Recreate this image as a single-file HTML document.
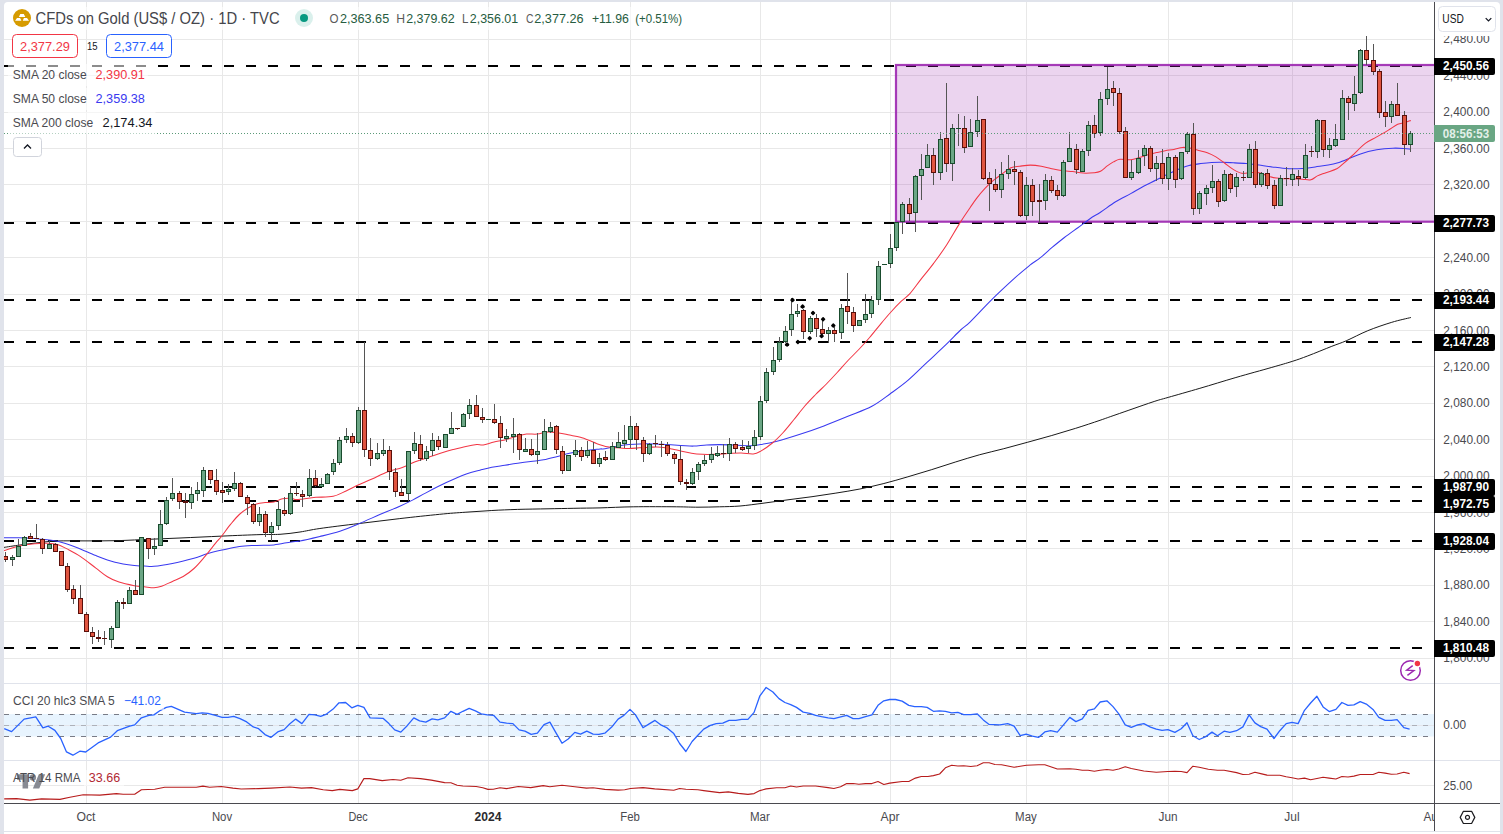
<!DOCTYPE html><html><head><meta charset="utf-8"><title>CFDs on Gold</title><style>html,body{margin:0;padding:0;background:#e0e3eb;width:1503px;height:834px;overflow:hidden;font-family:"Liberation Sans",sans-serif}</style></head><body><svg width="1503" height="834" viewBox="0 0 1503 834" style="display:block;position:absolute;left:0;top:0" font-family="Liberation Sans, sans-serif">
<defs><clipPath id="cm"><rect x="4" y="2" width="1430" height="681"/></clipPath><clipPath id="cc"><rect x="4" y="684" width="1430" height="76"/></clipPath><clipPath id="ca"><rect x="4" y="761" width="1430" height="42"/></clipPath></defs>
<rect width="1503" height="834" fill="#e0e3eb"/>
<path d="M4 834V6a4 4 0 0 1 4 -4H1496a4 4 0 0 1 4 4V834Z" fill="#fff"/>
<rect x="4" y="831" width="1496" height="1" fill="#e0e3eb"/>
<path d="M4 658.5H1434 M4 621.5H1434 M4 585.5H1434 M4 548.5H1434 M4 512.5H1434 M4 476.5H1434 M4 439.5H1434 M4 403.5H1434 M4 366.5H1434 M4 330.5H1434 M4 294.5H1434 M4 257.5H1434 M4 221.5H1434 M4 184.5H1434 M4 148.5H1434 M4 112.5H1434 M4 75.5H1434 M4 39.5H1434 M86.5 2V803 M222.5 2V803 M358.5 2V803 M488.5 2V803 M630.5 2V803 M760.5 2V803 M890.5 2V803 M1026.5 2V803 M1168.5 2V803 M1292.5 2V803 M1434.5 2V803 M4 785.5H1434" stroke="#e8e8e8" stroke-width="1" fill="none" shape-rendering="crispEdges"/>
<path d="M4 683.5H1500M4 760.5H1500" stroke="#e0e3eb" stroke-width="1" shape-rendering="crispEdges"/>
<g clip-path="url(#cm)">
<path d="M4 66H1434" stroke="#000" stroke-width="2" stroke-dasharray="10 12" stroke-dashoffset="0" shape-rendering="crispEdges"/>
<path d="M4 223H1434" stroke="#000" stroke-width="2" stroke-dasharray="10 12" stroke-dashoffset="0" shape-rendering="crispEdges"/>
<path d="M4 300H1434" stroke="#000" stroke-width="2" stroke-dasharray="10 12" stroke-dashoffset="0" shape-rendering="crispEdges"/>
<path d="M4 342H1434" stroke="#000" stroke-width="2" stroke-dasharray="10 12" stroke-dashoffset="0" shape-rendering="crispEdges"/>
<path d="M4 487H1434" stroke="#000" stroke-width="2" stroke-dasharray="10 12" stroke-dashoffset="0" shape-rendering="crispEdges"/>
<path d="M4 501H1434" stroke="#000" stroke-width="2" stroke-dasharray="10 12" stroke-dashoffset="0" shape-rendering="crispEdges"/>
<path d="M4 541H1434" stroke="#000" stroke-width="2" stroke-dasharray="10 12" stroke-dashoffset="0" shape-rendering="crispEdges"/>
<path d="M4 648H1434" stroke="#000" stroke-width="2" stroke-dasharray="10 12" stroke-dashoffset="0" shape-rendering="crispEdges"/>
<rect x="896" y="65" width="542" height="156.7" fill="#9c27b0" fill-opacity="0.2" stroke="#9c27b0" stroke-opacity="0.9" stroke-width="2.2"/>
<path d="M4.0 547.4C6.7 547.0 14.0 545.8 20.0 545.0C26.0 544.2 33.8 543.2 40.0 542.5C46.2 541.8 49.5 541.3 57.0 541.0C64.5 540.7 75.3 540.9 85.0 540.9C94.7 540.9 105.5 540.9 115.0 540.7C124.5 540.5 131.2 540.1 142.0 539.6C152.8 539.1 166.7 538.6 180.0 538.0C193.3 537.4 208.7 536.7 222.0 536.1C235.3 535.5 250.3 534.9 260.0 534.6C269.7 534.3 273.3 534.7 280.0 534.3C286.7 533.9 293.4 533.0 300.0 532.0C306.6 531.0 310.1 529.9 319.9 528.5C329.6 527.1 345.2 525.2 358.5 523.6C371.8 522.0 386.3 520.2 399.8 518.6C413.3 517.0 428.7 515.4 439.7 514.3C450.7 513.2 457.2 512.8 465.9 512.2C474.6 511.6 483.2 511.0 491.8 510.5C500.4 510.0 508.3 509.7 517.7 509.4C527.1 509.1 538.6 509.0 548.0 508.8C557.4 508.6 565.2 508.5 573.9 508.3C582.6 508.1 590.1 508.1 600.0 507.9C609.9 507.6 620.5 507.0 633.2 506.8C645.9 506.6 665.6 506.7 676.4 506.8C687.2 506.9 690.8 507.2 698.0 507.2C705.2 507.2 712.6 507.0 719.6 506.8C726.6 506.6 732.6 506.6 740.0 506.0C747.4 505.4 756.0 504.1 764.0 503.1C772.0 502.1 780.0 500.9 788.0 499.8C796.0 498.7 804.0 497.8 812.0 496.7C820.0 495.6 827.9 494.4 835.9 493.1C843.9 491.8 851.9 490.6 859.9 489.0C867.9 487.4 875.9 485.5 883.9 483.5C891.9 481.5 899.9 479.1 907.9 476.8C915.9 474.5 923.8 472.1 931.8 469.6C939.8 467.1 947.8 464.4 955.8 461.9C963.8 459.4 971.8 456.9 979.8 454.7C987.8 452.5 995.8 450.8 1003.8 448.7C1011.8 446.6 1019.8 444.4 1027.8 442.2C1035.8 440.0 1043.8 437.8 1051.8 435.5C1059.8 433.2 1067.7 430.8 1075.7 428.3C1083.7 425.8 1093.3 422.6 1100.0 420.3C1106.7 418.0 1107.3 417.7 1116.0 414.7C1124.7 411.7 1143.3 405.1 1152.0 402.2C1160.7 399.3 1160.2 399.7 1168.2 397.4C1176.2 395.1 1188.6 391.6 1199.9 388.3C1211.2 385.0 1223.9 381.0 1235.9 377.5C1247.9 374.0 1262.4 370.1 1271.8 367.4C1281.2 364.7 1286.2 363.3 1292.2 361.4C1298.2 359.5 1301.2 358.4 1307.8 355.9C1314.4 353.4 1325.4 348.8 1331.8 346.3C1338.2 343.8 1340.2 343.4 1346.2 340.8C1352.2 338.2 1360.2 333.8 1367.8 330.7C1375.4 327.6 1384.6 324.5 1391.8 322.3C1399.0 320.1 1407.7 318.3 1410.9 317.5" stroke="#1a1a1a" stroke-width="1.0" fill="none"/>
<path d="M4.0 537.8C6.5 537.8 13.5 537.6 19.2 537.8C24.9 538.0 32.0 538.3 38.4 538.9C44.8 539.5 51.1 539.8 57.5 541.2C63.9 542.6 70.3 545.0 76.7 547.4C83.1 549.8 89.5 553.1 95.9 555.6C102.3 558.1 108.6 560.6 115.0 562.3C121.4 564.0 129.4 565.0 134.3 565.6C139.2 566.2 141.0 565.8 144.3 565.9C147.6 566.0 149.3 566.7 154.0 566.3C158.7 565.9 165.7 564.8 172.4 563.5C179.1 562.2 188.2 559.9 194.0 558.3C199.8 556.7 202.3 555.2 207.0 553.8C211.7 552.4 216.6 551.3 222.0 550.1C227.4 548.9 233.5 547.3 239.3 546.5C245.1 545.7 250.8 545.7 256.6 545.4C262.4 545.1 268.1 545.5 273.9 544.9C279.7 544.3 286.8 542.5 291.2 541.9C295.6 541.2 295.2 541.9 300.0 541.0C304.8 540.1 313.2 538.1 319.9 536.5C326.5 534.9 333.5 533.3 339.9 531.2C346.3 529.1 351.9 526.7 358.5 523.9C365.1 521.1 372.9 517.6 379.8 514.6C386.7 511.7 394.3 508.6 399.8 506.2C405.3 503.8 408.6 502.2 413.0 499.9C417.4 497.6 420.8 495.5 426.4 492.6C431.9 489.7 439.6 485.7 446.3 482.6C453.0 479.5 460.7 476.1 466.3 474.0C471.9 471.9 475.8 471.3 480.0 470.2C484.2 469.1 487.7 468.1 491.8 467.3C495.9 466.5 500.5 465.9 504.8 465.2C509.1 464.5 513.4 463.8 517.7 463.2C522.0 462.6 526.4 462.1 530.7 461.5C535.0 460.9 539.3 460.6 543.6 459.8C547.9 459.0 552.3 457.8 556.6 456.7C560.9 455.6 565.3 454.2 569.6 453.3C573.9 452.4 577.4 451.8 582.5 451.1C587.6 450.4 596.6 449.4 600.0 449.0C603.4 448.6 600.4 449.3 603.0 448.9C605.6 448.5 611.6 447.2 615.9 446.5C620.2 445.8 624.9 445.0 628.9 444.6C632.9 444.2 635.4 444.0 639.7 443.9C644.0 443.8 650.1 443.8 654.8 443.9C659.5 444.0 663.4 444.4 667.7 444.6C672.0 444.9 676.4 445.1 680.7 445.4C685.0 445.6 689.3 446.2 693.6 446.1C697.9 446.0 702.3 445.2 706.6 445.0C710.9 444.8 715.3 444.6 719.6 444.6C723.9 444.6 727.4 444.8 732.5 445.0C737.6 445.2 745.4 445.8 750.0 445.7C754.6 445.6 756.1 445.3 760.4 444.6C764.7 443.9 769.4 443.2 776.0 441.5C782.6 439.8 792.0 436.9 800.0 434.3C808.0 431.7 815.9 428.9 823.9 425.9C831.9 422.9 839.9 419.6 847.9 416.3C855.9 413.0 864.8 410.1 871.9 406.3C879.0 402.5 884.6 397.8 890.6 393.5C896.6 389.2 901.8 385.6 907.9 380.4C914.0 375.2 920.6 368.4 927.0 362.4C933.4 356.4 940.6 349.8 946.2 344.4C951.8 339.0 956.6 333.7 960.6 330.0C964.6 326.3 964.7 327.3 970.0 322.1C975.3 316.9 985.0 306.3 992.5 298.9C1000.0 291.5 1008.7 283.5 1014.9 277.9C1021.1 272.3 1025.7 268.6 1029.9 265.2C1034.2 261.8 1036.7 260.7 1040.4 257.7C1044.2 254.7 1048.4 250.6 1052.4 247.2C1056.4 243.8 1060.2 240.8 1064.4 237.5C1068.7 234.2 1073.6 230.8 1077.9 227.7C1082.2 224.6 1086.2 221.3 1090.0 218.7C1093.8 216.1 1096.2 215.0 1100.5 212.2C1104.8 209.4 1110.6 204.9 1115.6 201.8C1120.6 198.7 1126.0 196.2 1130.7 193.6C1135.4 191.0 1139.3 188.6 1143.6 186.3C1147.9 184.0 1152.3 182.0 1156.6 179.8C1160.9 177.6 1165.6 175.2 1169.6 173.3C1173.6 171.4 1177.2 169.7 1180.4 168.4C1183.6 167.1 1185.6 166.2 1189.0 165.4C1192.4 164.6 1197.0 164.1 1200.8 163.6C1204.6 163.1 1208.0 162.7 1211.6 162.5C1215.2 162.3 1218.8 162.2 1222.4 162.3C1226.0 162.4 1229.2 162.6 1233.2 162.8C1237.2 163.0 1241.8 163.2 1246.1 163.6C1250.4 164.0 1254.8 164.5 1259.1 165.1C1263.4 165.7 1268.0 166.4 1272.0 166.9C1276.0 167.4 1279.2 167.9 1282.8 168.2C1286.4 168.5 1290.3 168.8 1293.6 168.8C1296.8 168.8 1298.7 168.7 1302.3 168.4C1305.9 168.1 1310.9 167.5 1315.2 166.9C1319.5 166.3 1324.2 165.8 1328.2 165.1C1332.2 164.4 1336.3 163.3 1339.0 162.5C1341.7 161.7 1340.7 161.8 1344.3 160.4C1347.9 159.0 1355.1 155.7 1360.5 153.9C1365.9 152.1 1371.3 150.8 1376.7 149.8C1382.1 148.9 1388.3 148.4 1392.9 148.2C1397.5 148.0 1401.2 148.3 1404.2 148.5C1407.2 148.7 1409.8 149.2 1410.9 149.3" stroke="#3a3af0" stroke-width="1.05" fill="none"/>
<path d="M4.0 550.5C6.5 549.8 14.1 547.1 19.2 546.0C24.3 544.9 29.7 544.2 34.5 543.7C39.3 543.2 44.2 543.1 48.0 543.2C51.8 543.3 54.3 543.5 57.5 544.5C60.7 545.5 63.1 546.9 67.0 548.9C70.8 550.9 75.8 553.4 80.6 556.6C85.4 559.8 91.4 564.8 95.9 568.1C100.4 571.5 103.6 574.4 107.4 576.7C111.2 579.0 114.5 580.6 119.0 582.1C123.5 583.6 130.1 584.9 134.3 585.7C138.5 586.5 141.0 586.5 144.3 586.8C147.6 587.1 151.1 587.8 154.0 587.7C156.9 587.6 158.5 587.2 161.6 586.2C164.7 585.2 168.8 583.0 172.4 581.4C176.0 579.8 179.6 578.6 183.2 576.5C186.8 574.4 190.4 571.8 194.0 568.5C197.6 565.2 201.2 560.8 204.8 556.6C208.4 552.4 212.7 546.7 215.6 543.2C218.5 539.7 219.5 538.9 222.0 535.7C224.5 532.5 227.8 527.7 230.7 524.2C233.6 520.7 236.4 517.2 239.3 514.5C242.2 511.8 245.1 509.8 248.0 508.0C250.9 506.2 253.7 504.8 256.6 503.9C259.5 503.0 262.3 502.9 265.2 502.6C268.1 502.3 271.0 502.6 273.9 502.0C276.8 501.4 279.6 499.3 282.5 498.7C285.4 498.1 288.9 498.1 291.2 498.3C293.4 498.5 294.0 499.5 296.0 499.6C298.0 499.7 299.7 499.3 303.0 498.9C306.3 498.5 310.9 497.7 315.9 497.3C320.9 496.9 328.2 497.4 333.2 496.3C338.2 495.2 342.2 492.7 346.1 490.9C350.1 489.1 352.6 487.5 356.9 485.5C361.2 483.5 366.9 481.3 372.0 479.0C377.1 476.7 382.1 473.8 387.2 471.9C392.2 470.0 397.6 469.2 402.3 467.5C407.0 465.8 410.9 463.4 415.2 461.7C419.5 460.0 423.9 458.8 428.2 457.4C432.5 456.0 437.1 454.4 441.2 453.1C445.3 451.8 448.9 450.7 453.0 449.6C457.1 448.5 461.9 447.2 465.9 446.4C469.8 445.6 473.8 444.9 476.7 444.6C479.6 444.4 480.3 445.3 483.2 444.9C486.1 444.5 490.4 442.8 494.0 442.0C497.6 441.2 501.2 440.8 504.8 439.9C508.4 439.0 512.0 437.7 515.6 436.7C519.2 435.7 522.8 434.5 526.4 434.1C530.0 433.7 533.6 434.5 537.2 434.1C540.8 433.7 544.4 432.1 548.0 431.9C551.6 431.7 555.2 432.5 558.8 433.0C562.4 433.5 566.0 434.4 569.6 435.1C573.2 435.8 576.8 436.3 580.4 437.3C584.0 438.3 588.5 440.2 591.2 441.2C593.9 442.2 593.8 442.6 596.5 443.5C599.2 444.4 603.7 446.0 607.3 446.7C610.9 447.4 614.4 447.5 618.0 447.8C621.6 448.1 625.3 448.5 628.9 448.5C632.5 448.5 636.1 448.0 639.7 447.8C643.3 447.6 646.9 447.3 650.5 447.2C654.1 447.1 657.7 446.9 661.3 447.2C664.9 447.5 668.8 448.3 672.0 448.9C675.2 449.5 677.5 450.3 680.7 451.0C684.0 451.7 687.9 452.6 691.5 453.2C695.1 453.8 698.3 454.1 702.3 454.3C706.2 454.5 710.9 454.4 715.2 454.3C719.5 454.2 723.9 453.8 728.2 453.6C732.5 453.4 737.0 452.9 741.2 453.0C745.4 453.1 750.0 454.3 753.2 454.0C756.4 453.7 757.2 453.2 760.4 451.4C763.6 449.6 768.6 446.1 772.4 443.0C776.2 439.9 779.6 436.4 783.2 432.5C786.8 428.6 790.4 423.9 794.0 419.5C797.6 415.1 801.2 410.2 804.8 406.0C808.4 401.8 812.0 398.2 815.6 394.5C819.2 390.8 822.8 387.7 826.4 384.0C830.0 380.3 833.6 376.4 837.2 372.5C840.8 368.6 844.4 364.3 848.0 360.5C851.6 356.7 855.2 353.3 858.8 349.5C862.4 345.7 866.0 341.7 869.6 337.5C873.2 333.3 876.9 328.5 880.4 324.3C883.9 320.1 887.0 316.4 890.5 312.5C894.0 308.6 898.1 304.3 901.3 301.2C904.5 298.1 906.7 297.2 909.9 293.6C913.1 290.0 916.8 284.6 920.7 279.6C924.7 274.6 929.3 269.2 933.6 263.4C937.9 257.6 942.3 251.7 946.6 245.0C950.9 238.3 955.7 229.6 959.6 223.4C963.5 217.2 967.1 212.1 969.9 208.0C972.7 203.9 973.9 201.9 976.4 198.6C978.9 195.3 982.1 191.5 985.0 188.4C987.9 185.3 990.8 182.6 993.7 180.2C996.6 177.8 999.4 175.9 1002.3 173.8C1005.2 171.7 1008.0 169.0 1010.9 167.7C1013.8 166.4 1016.4 166.6 1019.6 166.2C1022.9 165.8 1026.8 165.1 1030.4 165.1C1034.0 165.1 1037.8 165.6 1041.2 166.2C1044.6 166.8 1047.4 167.7 1050.8 168.4C1054.2 169.1 1058.0 170.0 1061.6 170.5C1065.2 171.0 1068.8 171.2 1072.4 171.6C1076.0 172.0 1079.6 172.9 1083.2 173.1C1086.8 173.3 1091.1 173.0 1094.0 172.7C1096.9 172.4 1098.3 172.3 1100.5 171.2C1102.7 170.1 1104.8 167.8 1106.9 166.2C1109.1 164.6 1111.2 163.1 1113.4 161.9C1115.6 160.8 1117.0 159.7 1119.9 159.3C1122.8 158.9 1127.5 160.0 1130.7 159.7C1133.9 159.4 1136.4 158.4 1139.3 157.6C1142.2 156.8 1145.1 155.6 1148.0 154.8C1150.9 154.0 1153.7 153.3 1156.6 152.6C1159.5 151.9 1162.3 151.2 1165.2 150.7C1168.1 150.2 1171.0 149.9 1173.9 149.4C1176.8 148.9 1179.6 147.6 1182.5 147.4C1185.4 147.2 1188.5 147.8 1191.2 148.3C1193.9 148.8 1195.9 149.7 1198.6 150.4C1201.3 151.2 1204.4 151.7 1207.3 152.8C1210.2 153.9 1213.0 155.2 1215.9 156.9C1218.8 158.6 1221.6 160.9 1224.5 163.0C1227.4 165.1 1230.3 167.7 1233.2 169.4C1236.1 171.1 1238.9 172.8 1241.8 173.3C1244.7 173.9 1247.6 172.8 1250.5 172.7C1253.4 172.6 1256.2 172.2 1259.1 172.7C1262.0 173.2 1264.8 175.0 1267.7 175.9C1270.6 176.8 1273.5 177.6 1276.4 178.1C1279.3 178.6 1282.1 178.6 1285.0 178.7C1287.9 178.8 1290.7 178.6 1293.6 178.7C1296.5 178.8 1299.4 179.0 1302.3 179.2C1305.2 179.4 1308.4 180.4 1310.9 179.8C1313.4 179.2 1314.9 177.1 1317.4 175.9C1319.9 174.7 1322.8 173.9 1326.0 172.7C1329.2 171.5 1333.9 170.3 1336.8 168.8C1339.7 167.3 1340.7 165.8 1343.3 163.6C1345.9 161.4 1348.7 158.9 1352.4 155.5C1356.1 152.1 1361.2 146.5 1365.3 143.4C1369.3 140.3 1372.9 139.1 1376.7 136.9C1380.5 134.7 1384.5 132.5 1388.0 130.4C1391.5 128.3 1395.0 125.6 1397.7 124.3C1400.4 123.0 1402.0 123.4 1404.2 122.8C1406.4 122.2 1409.8 120.8 1410.9 120.4" stroke="#f23645" stroke-width="1.05" fill="none"/>
<path d="M12.5 555V566 M18.5 539V557 M24.5 536V546 M49.5 541V549 M111.5 626V648 M117.5 600V628 M129.5 587V604 M141.5 537V595 M154.5 538V555 M160.5 510V546 M166.5 497V525 M172.5 478V501 M191.5 487V509 M197.5 482V501 M203.5 467V497 M228.5 484V495 M234.5 472V491 M259.5 507V526 M271.5 522V541 M278.5 501V530 M290.5 487V515 M309.5 469V497 M321.5 478V487 M327.5 473V484 M333.5 459V475 M339.5 437V465 M346.5 428V443 M358.5 407V444 M377.5 443V460 M383.5 439V456 M408.5 451V501 M414.5 432V454 M426.5 446V461 M432.5 433V456 M445.5 434V448 M451.5 412V434 M463.5 413V427 M469.5 399V419 M488.5 419V420 M506.5 429V442 M513.5 418V453 M525.5 438V452 M537.5 433V464 M544.5 419V450 M550.5 422V433 M568.5 455V471 M575.5 440V457 M587.5 441V458 M599.5 453V467 M612.5 442V460 M618.5 432V448 M624.5 425V448 M630.5 416V448 M649.5 443V455 M692.5 468V485 M698.5 462V480 M704.5 455V466 M711.5 447V463 M717.5 446V457 M729.5 438V461 M748.5 441V453 M754.5 430V450 M760.5 396V440 M766.5 368V403 M773.5 347V375 M779.5 337V362 M785.5 326V343 M791.5 298V336 M797.5 304V317 M810.5 316V334 M828.5 327V343 M841.5 304V339 M859.5 320V326 M865.5 294V323 M871.5 296V318 M878.5 261V305 M884.5 264V265 M890.5 234V268 M896.5 222V251 M902.5 202V234 M915.5 175V232 M921.5 154V200 M927.5 144V168 M940.5 132V180 M952.5 124V181 M958.5 114V146 M970.5 119V147 M977.5 96V137 M1001.5 162V198 M1008.5 155V179 M1026.5 177V220 M1045.5 174V210 M1063.5 160V197 M1069.5 132V162 M1082.5 149V172 M1088.5 121V156 M1100.5 92V136 M1107.5 67V105 M1131.5 160V180 M1138.5 150V174 M1144.5 145V166 M1156.5 156V181 M1168.5 153V190 M1181.5 152V180 M1187.5 132V154 M1199.5 191V214 M1206.5 185V205 M1212.5 165V193 M1224.5 170V202 M1236.5 173V197 M1249.5 144V178 M1261.5 172V187 M1280.5 175V206 M1292.5 168V186 M1305.5 144V179 M1317.5 119V158 M1329.5 138V158 M1335.5 124V147 M1342.5 90V140 M1354.5 76V111 M1360.5 49V94 M1391.5 101V123 M1410.5 131V152 M5.5 552V562 M30.5 533V539 M36.5 524V539 M42.5 538V554 M55.5 543V552 M61.5 551V566 M67.5 563V592 M73.5 585V604 M80.5 585V614 M86.5 612V632 M92.5 627V644 M98.5 630V642 M104.5 631V645 M123.5 598V609 M135.5 580V595 M148.5 538V559 M179.5 491V509 M185.5 493V518 M210.5 470V484 M216.5 469V495 M222.5 482V503 M240.5 482V497 M247.5 495V515 M253.5 503V524 M265.5 511V537 M284.5 497V516 M296.5 482V496 M302.5 490V507 M315.5 470V487 M352.5 433V447 M364.5 342V457 M370.5 438V466 M389.5 446V480 M395.5 468V497 M401.5 479V496 M420.5 435V461 M438.5 436V450 M457.5 428V430 M476.5 395V417 M482.5 408V423 M494.5 404V424 M500.5 416V448 M519.5 433V460 M531.5 439V456 M556.5 425V454 M562.5 446V474 M581.5 447V461 M593.5 442V464 M605.5 451V461 M636.5 423V450 M643.5 437V462 M655.5 435V447 M661.5 441V457 M667.5 442V456 M674.5 452V464 M680.5 446V485 M686.5 479V490 M723.5 444V458 M735.5 442V453 M742.5 440V451 M803.5 309V339 M816.5 314V337 M822.5 320V336 M834.5 327V342 M847.5 273V324 M853.5 307V332 M909.5 198V221 M933.5 148V185 M946.5 83V172 M964.5 116V153 M983.5 119V180 M989.5 172V211 M995.5 169V192 M1014.5 161V185 M1020.5 170V217 M1032.5 179V216 M1039.5 184V223 M1051.5 176V193 M1057.5 185V200 M1076.5 144V174 M1094.5 115V138 M1113.5 81V106 M1119.5 88V134 M1125.5 127V178 M1150.5 146V172 M1162.5 149V184 M1175.5 155V188 M1193.5 123V215 M1218.5 179V207 M1230.5 173V193 M1243.5 171V181 M1255.5 141V188 M1267.5 169V189 M1274.5 180V209 M1286.5 167V186 M1298.5 170V186 M1311.5 146V157 M1323.5 120V157 M1348.5 96V120 M1366.5 36V65 M1373.5 44V75 M1379.5 69V118 M1385.5 101V127 M1397.5 83V116 M1404.5 111V155" stroke="#555" stroke-width="1" shape-rendering="crispEdges"/>
<g fill="#6ba685" stroke="#194b2d" stroke-width="1" shape-rendering="crispEdges">
<rect x="10.5" y="557.5" width="4" height="2"/>
<rect x="16.5" y="546.5" width="4" height="10"/>
<rect x="22.5" y="537.5" width="4" height="8"/>
<rect x="47.5" y="544.5" width="4" height="4"/>
<rect x="109.5" y="628.5" width="4" height="11"/>
<rect x="115.5" y="602.5" width="4" height="25"/>
<rect x="127.5" y="590.5" width="4" height="13"/>
<rect x="139.5" y="537.5" width="4" height="57"/>
<rect x="152.5" y="546.5" width="4" height="2"/>
<rect x="158.5" y="524.5" width="4" height="21"/>
<rect x="164.5" y="500.5" width="4" height="23"/>
<rect x="170.5" y="493.5" width="4" height="5"/>
<rect x="189.5" y="494.5" width="4" height="8"/>
<rect x="195.5" y="490.5" width="4" height="3"/>
<rect x="201.5" y="470.5" width="4" height="20"/>
<rect x="226.5" y="489.5" width="4" height="2"/>
<rect x="232.5" y="483.5" width="4" height="5"/>
<rect x="257.5" y="514.5" width="4" height="7"/>
<rect x="269.5" y="526.5" width="4" height="6"/>
<rect x="276.5" y="509.5" width="4" height="16"/>
<rect x="288.5" y="493.5" width="4" height="20"/>
<rect x="307.5" y="478.5" width="4" height="17"/>
<rect x="319.5" y="484.5" width="4" height="2"/>
<rect x="325.5" y="474.5" width="4" height="9"/>
<rect x="331.5" y="463.5" width="4" height="8"/>
<rect x="337.5" y="440.5" width="4" height="22"/>
<rect x="344.5" y="436.5" width="4" height="3"/>
<rect x="356.5" y="410.5" width="4" height="32"/>
<rect x="375.5" y="453.5" width="4" height="5"/>
<rect x="381.5" y="450.5" width="4" height="3"/>
<rect x="406.5" y="451.5" width="4" height="42"/>
<rect x="412.5" y="443.5" width="4" height="7"/>
<rect x="424.5" y="451.5" width="4" height="7"/>
<rect x="430.5" y="440.5" width="4" height="10"/>
<rect x="443.5" y="434.5" width="4" height="13"/>
<rect x="449.5" y="428.5" width="4" height="5"/>
<rect x="461.5" y="414.5" width="4" height="12"/>
<rect x="467.5" y="405.5" width="4" height="8"/>
<rect x="486" y="419" width="5" height="1" fill="#194b2d" stroke="none"/>
<rect x="504.5" y="436.5" width="4" height="2"/>
<rect x="511.5" y="434.5" width="4" height="2"/>
<rect x="523.5" y="449.5" width="4" height="2"/>
<rect x="535.5" y="451.5" width="4" height="3"/>
<rect x="542.5" y="431.5" width="4" height="18"/>
<rect x="548.5" y="427.5" width="4" height="4"/>
<rect x="566.5" y="455.5" width="4" height="15"/>
<rect x="573.5" y="450.5" width="4" height="4"/>
<rect x="585.5" y="450.5" width="4" height="5"/>
<rect x="597.5" y="458.5" width="4" height="5"/>
<rect x="610.5" y="446.5" width="4" height="13"/>
<rect x="616.5" y="442.5" width="4" height="5"/>
<rect x="622.5" y="440.5" width="4" height="3"/>
<rect x="628.5" y="426.5" width="4" height="13"/>
<rect x="647.5" y="444.5" width="4" height="9"/>
<rect x="690.5" y="472.5" width="4" height="11"/>
<rect x="696.5" y="464.5" width="4" height="7"/>
<rect x="702.5" y="460.5" width="4" height="3"/>
<rect x="709.5" y="454.5" width="4" height="5"/>
<rect x="715.5" y="453.5" width="4" height="2"/>
<rect x="727.5" y="444.5" width="4" height="9"/>
<rect x="746.5" y="446.5" width="4" height="2"/>
<rect x="752.5" y="437.5" width="4" height="8"/>
<rect x="758.5" y="401.5" width="4" height="35"/>
<rect x="764.5" y="372.5" width="4" height="28"/>
<rect x="771.5" y="360.5" width="4" height="11"/>
<rect x="777.5" y="342.5" width="4" height="17"/>
<rect x="783.5" y="331.5" width="4" height="10"/>
<rect x="789.5" y="314.5" width="4" height="15"/>
<rect x="795.5" y="311.5" width="4" height="2"/>
<rect x="808.5" y="318.5" width="4" height="13"/>
<rect x="826.5" y="330.5" width="4" height="3"/>
<rect x="839.5" y="308.5" width="4" height="24"/>
<rect x="857.5" y="320.5" width="4" height="5"/>
<rect x="863.5" y="314.5" width="4" height="5"/>
<rect x="869.5" y="300.5" width="4" height="13"/>
<rect x="876.5" y="266.5" width="4" height="33"/>
<rect x="882" y="264" width="5" height="1" fill="#194b2d" stroke="none"/>
<rect x="888.5" y="248.5" width="4" height="15"/>
<rect x="894.5" y="222.5" width="4" height="25"/>
<rect x="900.5" y="204.5" width="4" height="17"/>
<rect x="913.5" y="176.5" width="4" height="36"/>
<rect x="919.5" y="169.5" width="4" height="6"/>
<rect x="925.5" y="155.5" width="4" height="12"/>
<rect x="938.5" y="139.5" width="4" height="33"/>
<rect x="950.5" y="128.5" width="4" height="35"/>
<rect x="956" y="128" width="5" height="1" fill="#194b2d" stroke="none"/>
<rect x="968.5" y="132.5" width="4" height="14"/>
<rect x="975.5" y="120.5" width="4" height="11"/>
<rect x="999.5" y="174.5" width="4" height="15"/>
<rect x="1006.5" y="169.5" width="4" height="4"/>
<rect x="1024.5" y="185.5" width="4" height="30"/>
<rect x="1043.5" y="180.5" width="4" height="20"/>
<rect x="1061.5" y="162.5" width="4" height="33"/>
<rect x="1067.5" y="148.5" width="4" height="13"/>
<rect x="1080.5" y="151.5" width="4" height="20"/>
<rect x="1086.5" y="125.5" width="4" height="25"/>
<rect x="1098.5" y="99.5" width="4" height="33"/>
<rect x="1105.5" y="89.5" width="4" height="9"/>
<rect x="1129.5" y="172.5" width="4" height="5"/>
<rect x="1136.5" y="158.5" width="4" height="14"/>
<rect x="1142.5" y="148.5" width="4" height="7"/>
<rect x="1154.5" y="163.5" width="4" height="5"/>
<rect x="1166.5" y="157.5" width="4" height="21"/>
<rect x="1179.5" y="152.5" width="4" height="26"/>
<rect x="1185.5" y="134.5" width="4" height="17"/>
<rect x="1197.5" y="193.5" width="4" height="15"/>
<rect x="1204.5" y="188.5" width="4" height="5"/>
<rect x="1210.5" y="181.5" width="4" height="6"/>
<rect x="1222.5" y="174.5" width="4" height="26"/>
<rect x="1234.5" y="177.5" width="4" height="9"/>
<rect x="1247.5" y="149.5" width="4" height="28"/>
<rect x="1259.5" y="173.5" width="4" height="11"/>
<rect x="1278.5" y="178.5" width="4" height="27"/>
<rect x="1290.5" y="174.5" width="4" height="5"/>
<rect x="1303.5" y="155.5" width="4" height="22"/>
<rect x="1315.5" y="120.5" width="4" height="31"/>
<rect x="1327.5" y="145.5" width="4" height="4"/>
<rect x="1333.5" y="139.5" width="4" height="6"/>
<rect x="1340.5" y="98.5" width="4" height="41"/>
<rect x="1352.5" y="94.5" width="4" height="9"/>
<rect x="1358.5" y="50.5" width="4" height="42"/>
<rect x="1389.5" y="104.5" width="4" height="12"/>
<rect x="1408.5" y="133.5" width="4" height="11"/>
</g>
<g fill="#e05540" stroke="#5a0f0a" stroke-width="1" shape-rendering="crispEdges">
<rect x="3.5" y="556.5" width="4" height="3"/>
<rect x="28.5" y="536.5" width="4" height="2"/>
<rect x="34" y="538" width="5" height="1" fill="#5a0f0a" stroke="none"/>
<rect x="40.5" y="539.5" width="4" height="9"/>
<rect x="53.5" y="544.5" width="4" height="7"/>
<rect x="59.5" y="551.5" width="4" height="14"/>
<rect x="65.5" y="566.5" width="4" height="23"/>
<rect x="71.5" y="589.5" width="4" height="9"/>
<rect x="78.5" y="598.5" width="4" height="15"/>
<rect x="84.5" y="614.5" width="4" height="17"/>
<rect x="90.5" y="632.5" width="4" height="4"/>
<rect x="96" y="637" width="5" height="2" fill="#5a0f0a" stroke="none"/>
<rect x="102" y="638" width="5" height="1" fill="#5a0f0a" stroke="none"/>
<rect x="121" y="602" width="5" height="2" fill="#5a0f0a" stroke="none"/>
<rect x="133.5" y="590.5" width="4" height="4"/>
<rect x="146.5" y="538.5" width="4" height="10"/>
<rect x="177.5" y="493.5" width="4" height="8"/>
<rect x="183" y="501" width="5" height="2" fill="#5a0f0a" stroke="none"/>
<rect x="208.5" y="470.5" width="4" height="9"/>
<rect x="214.5" y="480.5" width="4" height="11"/>
<rect x="220.5" y="490.5" width="4" height="2"/>
<rect x="238.5" y="483.5" width="4" height="13"/>
<rect x="245.5" y="497.5" width="4" height="6"/>
<rect x="251.5" y="504.5" width="4" height="17"/>
<rect x="263.5" y="514.5" width="4" height="18"/>
<rect x="282.5" y="510.5" width="4" height="3"/>
<rect x="294" y="493" width="5" height="1" fill="#5a0f0a" stroke="none"/>
<rect x="300.5" y="494.5" width="4" height="2"/>
<rect x="313.5" y="478.5" width="4" height="7"/>
<rect x="350.5" y="436.5" width="4" height="6"/>
<rect x="362.5" y="410.5" width="4" height="39"/>
<rect x="368.5" y="450.5" width="4" height="8"/>
<rect x="387.5" y="450.5" width="4" height="21"/>
<rect x="393.5" y="472.5" width="4" height="19"/>
<rect x="399.5" y="492.5" width="4" height="3"/>
<rect x="418.5" y="444.5" width="4" height="14"/>
<rect x="436.5" y="440.5" width="4" height="6"/>
<rect x="455" y="428" width="5" height="1" fill="#5a0f0a" stroke="none"/>
<rect x="474.5" y="405.5" width="4" height="11"/>
<rect x="480.5" y="417.5" width="4" height="2"/>
<rect x="492.5" y="419.5" width="4" height="3"/>
<rect x="498.5" y="423.5" width="4" height="14"/>
<rect x="517.5" y="434.5" width="4" height="15"/>
<rect x="529.5" y="449.5" width="4" height="5"/>
<rect x="554.5" y="426.5" width="4" height="23"/>
<rect x="560.5" y="451.5" width="4" height="19"/>
<rect x="579.5" y="450.5" width="4" height="6"/>
<rect x="591.5" y="450.5" width="4" height="13"/>
<rect x="603.5" y="457.5" width="4" height="2"/>
<rect x="634.5" y="426.5" width="4" height="13"/>
<rect x="641.5" y="440.5" width="4" height="13"/>
<rect x="653" y="443" width="5" height="1" fill="#5a0f0a" stroke="none"/>
<rect x="659" y="444" width="5" height="1" fill="#5a0f0a" stroke="none"/>
<rect x="665.5" y="445.5" width="4" height="8"/>
<rect x="672.5" y="454.5" width="4" height="4"/>
<rect x="678.5" y="459.5" width="4" height="22"/>
<rect x="684" y="482" width="5" height="2" fill="#5a0f0a" stroke="none"/>
<rect x="721" y="453" width="5" height="1" fill="#5a0f0a" stroke="none"/>
<rect x="733.5" y="444.5" width="4" height="4"/>
<rect x="740.5" y="447.5" width="4" height="2"/>
<rect x="801.5" y="310.5" width="4" height="21"/>
<rect x="814.5" y="318.5" width="4" height="10"/>
<rect x="820.5" y="329.5" width="4" height="4"/>
<rect x="832.5" y="330.5" width="4" height="3"/>
<rect x="845.5" y="306.5" width="4" height="5"/>
<rect x="851.5" y="312.5" width="4" height="13"/>
<rect x="907.5" y="204.5" width="4" height="9"/>
<rect x="931.5" y="155.5" width="4" height="17"/>
<rect x="944.5" y="138.5" width="4" height="25"/>
<rect x="962.5" y="128.5" width="4" height="19"/>
<rect x="981.5" y="119.5" width="4" height="59"/>
<rect x="987.5" y="178.5" width="4" height="5"/>
<rect x="993.5" y="184.5" width="4" height="5"/>
<rect x="1012.5" y="169.5" width="4" height="2"/>
<rect x="1018.5" y="172.5" width="4" height="43"/>
<rect x="1030.5" y="185.5" width="4" height="16"/>
<rect x="1037" y="200" width="5" height="2" fill="#5a0f0a" stroke="none"/>
<rect x="1049.5" y="180.5" width="4" height="10"/>
<rect x="1055.5" y="190.5" width="4" height="5"/>
<rect x="1074.5" y="149.5" width="4" height="20"/>
<rect x="1092.5" y="125.5" width="4" height="8"/>
<rect x="1111.5" y="88.5" width="4" height="4"/>
<rect x="1117.5" y="93.5" width="4" height="38"/>
<rect x="1123.5" y="131.5" width="4" height="46"/>
<rect x="1148.5" y="148.5" width="4" height="20"/>
<rect x="1160.5" y="163.5" width="4" height="15"/>
<rect x="1173.5" y="157.5" width="4" height="22"/>
<rect x="1191.5" y="134.5" width="4" height="74"/>
<rect x="1216.5" y="181.5" width="4" height="20"/>
<rect x="1228.5" y="174.5" width="4" height="14"/>
<rect x="1241" y="177" width="5" height="1" fill="#5a0f0a" stroke="none"/>
<rect x="1253.5" y="149.5" width="4" height="35"/>
<rect x="1265.5" y="173.5" width="4" height="12"/>
<rect x="1272.5" y="185.5" width="4" height="20"/>
<rect x="1284" y="178" width="5" height="1" fill="#5a0f0a" stroke="none"/>
<rect x="1296.5" y="176.5" width="4" height="2"/>
<rect x="1309" y="151" width="5" height="1" fill="#5a0f0a" stroke="none"/>
<rect x="1321.5" y="120.5" width="4" height="29"/>
<rect x="1346.5" y="98.5" width="4" height="4"/>
<rect x="1364.5" y="50.5" width="4" height="9"/>
<rect x="1371.5" y="60.5" width="4" height="11"/>
<rect x="1377.5" y="71.5" width="4" height="41"/>
<rect x="1383.5" y="112.5" width="4" height="4"/>
<rect x="1395.5" y="104.5" width="4" height="11"/>
<rect x="1402.5" y="115.5" width="4" height="29"/>
</g>
<path d="M4 133.5H1434" stroke="#5b9a78" stroke-width="1" stroke-dasharray="1 2" shape-rendering="crispEdges"/>
<rect x="790.7" y="298.3" width="3.6" height="3.6" rx="0.8" fill="#000" transform="rotate(45 792.5 300.1)"/>
<rect x="800.8000000000001" y="304.8" width="3.6" height="3.6" rx="0.8" fill="#000" transform="rotate(45 802.6 306.6)"/>
<rect x="811.2" y="311.2" width="3.6" height="3.6" rx="0.8" fill="#000" transform="rotate(45 813 313)"/>
<rect x="821.3000000000001" y="317.5" width="3.6" height="3.6" rx="0.8" fill="#000" transform="rotate(45 823.1 319.3)"/>
<rect x="831.5" y="323.8" width="3.6" height="3.6" rx="0.8" fill="#000" transform="rotate(45 833.3 325.6)"/>
<rect x="785.3000000000001" y="342.8" width="3.6" height="3.6" rx="0.8" fill="#000" transform="rotate(45 787.1 344.6)"/>
<rect x="796.1" y="340.2" width="3.6" height="3.6" rx="0.8" fill="#000" transform="rotate(45 797.9 342)"/>
<rect x="807.9000000000001" y="336.5" width="3.6" height="3.6" rx="0.8" fill="#000" transform="rotate(45 809.7 338.3)"/>
<rect x="819.8000000000001" y="334.3" width="3.6" height="3.6" rx="0.8" fill="#000" transform="rotate(45 821.6 336.1)"/>
</g>
<g clip-path="url(#cc)">
<rect x="4" y="714" width="1430" height="22.5" fill="#2196f3" fill-opacity="0.1"/>
<path d="M4 725.5H1434" stroke="#e4e6ec" stroke-width="1" shape-rendering="crispEdges"/>
<path d="M4 714.5H1434M4 736.5H1434" stroke="#787b86" stroke-width="1" stroke-dasharray="5 6" shape-rendering="crispEdges"/>
<path d="M4 725.5H1434" stroke="#787b86" stroke-opacity="0.5" stroke-width="1" stroke-dasharray="5 6" shape-rendering="crispEdges"/>
<path d="M4.2 728.7 L11.6 731.6 L24.1 719.1 L35.8 716.9 L42.9 727.9 L48.2 726.2 L54.9 730.4 L60.7 738.5 L66.5 751.9 L72.9 755.2 L79.8 751.2 L85.7 752.0 L98.1 742.9 L110.6 737.1 L117.3 730.7 L129.7 726.2 L134.7 724.9 L141.4 717.8 L148.9 715.4 L153.9 714.9 L160.5 710.3 L166.3 707.4 L171.3 706.3 L178.8 709.6 L184.6 712.1 L196.3 713.6 L202.1 712.8 L207.9 713.3 L215.4 715.4 L222.1 717.4 L227.9 717.4 L233.7 716.3 L240.0 718.6 L246.7 721.9 L253.3 726.9 L258.6 728.7 L265.0 734.6 L270.8 737.4 L278.3 731.6 L284.1 729.6 L289.9 723.7 L295.7 719.1 L301.9 723.6 L309.0 714.4 L314.9 714.9 L320.7 716.3 L326.5 714.1 L333.1 709.1 L339.0 702.8 L345.6 702.5 L351.8 707.8 L357.8 705.3 L363.9 707.4 L370.1 717.9 L383.0 718.3 L388.9 723.6 L394.7 729.9 L400.8 732.1 L407.2 725.7 L413.8 717.8 L419.6 720.8 L425.8 722.1 L432.1 718.8 L437.9 719.9 L444.6 717.9 L450.9 711.3 L457.1 714.4 L462.9 711.3 L469.2 708.3 L475.4 710.8 L481.2 713.8 L487.5 714.9 L493.6 715.3 L500.0 722.1 L506.6 723.2 L512.9 723.6 L519.1 729.9 L524.9 731.1 L531.2 734.4 L537.4 733.2 L544.0 724.6 L549.9 722.1 L556.0 732.9 L562.0 743.2 L568.2 739.0 L574.8 732.4 L580.6 734.1 L586.8 731.1 L593.1 734.1 L598.9 734.4 L604.8 733.2 L611.7 727.1 L618.1 719.1 L623.9 715.4 L630.0 709.4 L635.5 714.9 L643.0 727.7 L648.8 724.1 L655.0 720.4 L661.3 725.2 L667.1 727.9 L673.8 733.6 L679.6 743.5 L685.9 751.5 L692.1 741.5 L697.9 735.2 L703.7 729.1 L710.4 725.4 L716.2 723.6 L722.8 723.2 L729.1 720.4 L735.8 720.4 L741.6 719.4 L747.9 719.4 L754.1 712.4 L759.9 695.8 L766.1 687.5 L772.9 692.0 L779.0 698.6 L784.9 702.5 L790.7 704.6 L796.5 707.4 L803.2 712.1 L809.8 713.3 L815.6 715.3 L821.5 716.6 L828.1 717.9 L833.9 718.6 L839.8 717.1 L846.7 715.3 L853.1 718.6 L858.9 718.6 L865.5 716.6 L871.9 714.9 L878.0 705.3 L883.8 700.8 L889.7 699.5 L895.5 699.5 L902.1 701.1 L908.8 705.4 L914.6 706.6 L921.3 706.6 L927.1 707.4 L933.4 711.3 L939.6 710.8 L945.4 711.3 L951.7 712.9 L957.9 712.4 L963.7 714.6 L970.8 714.6 L977.1 713.8 L983.3 719.9 L989.1 724.4 L999.9 724.9 L1007.7 723.6 L1014.1 726.1 L1020.2 735.7 L1026.2 734.1 L1032.4 736.1 L1038.5 737.4 L1044.8 731.9 L1050.7 730.7 L1057.3 732.1 L1063.1 725.4 L1069.8 717.4 L1075.9 721.6 L1082.3 718.8 L1088.1 710.4 L1094.4 708.8 L1100.2 702.0 L1106.9 700.8 L1113.0 706.6 L1118.8 713.8 L1125.2 724.9 L1131.3 727.4 L1137.6 724.9 L1143.8 723.7 L1150.5 727.1 L1156.3 729.1 L1162.1 730.4 L1167.9 729.6 L1174.9 732.4 L1181.2 728.7 L1187.0 722.7 L1192.9 735.7 L1199.2 739.5 L1205.8 736.6 L1212.0 732.1 L1217.5 735.7 L1224.1 731.2 L1229.9 732.4 L1236.6 730.7 L1242.9 726.9 L1249.1 714.9 L1254.9 722.9 L1260.7 726.6 L1267.0 729.1 L1274.0 738.5 L1279.8 730.7 L1286.2 723.6 L1292.0 722.4 L1298.1 723.6 L1304.5 710.3 L1310.6 703.0 L1316.9 696.3 L1323.1 706.9 L1329.2 711.6 L1335.9 709.4 L1341.9 702.5 L1348.0 705.4 L1353.9 704.9 L1360.2 701.6 L1366.3 704.1 L1373.0 709.4 L1378.8 717.4 L1385.1 720.4 L1391.3 720.3 L1397.1 719.6 L1403.8 727.7 L1409.6 729.1" stroke="#2962ff" stroke-width="1.3" fill="none" stroke-linejoin="round" />
</g>
<g clip-path="url(#ca)">
<path d="M4.2 798.9 L16.6 798.6 L29.9 800.1 L41.6 798.9 L59.9 799.4 L69.9 797.3 L83.2 794.8 L99.8 795.1 L116.4 793.6 L123.1 794.3 L134.7 794.3 L141.4 789.8 L154.7 789.3 L164.7 787.3 L183.0 787.3 L196.3 787.3 L202.9 786.1 L209.6 787.3 L221.2 786.5 L232.9 788.1 L241.2 789.0 L258.3 788.6 L270.8 788.1 L289.9 787.0 L301.5 788.1 L311.5 787.6 L323.2 789.8 L332.3 790.6 L339.8 789.4 L352.3 790.6 L357.8 788.9 L363.9 778.6 L369.7 778.6 L382.2 780.6 L393.0 779.5 L400.8 780.3 L408.0 777.8 L420.5 778.6 L431.3 780.1 L444.6 782.6 L450.9 782.8 L457.1 785.3 L462.9 786.0 L476.2 786.5 L482.8 787.8 L488.0 789.4 L493.3 789.3 L500.0 787.8 L506.6 788.6 L518.3 786.5 L530.7 787.6 L543.2 785.6 L549.9 786.8 L562.0 785.3 L574.8 786.8 L586.5 788.1 L593.1 787.8 L604.8 789.4 L618.1 790.1 L624.7 789.8 L630.5 788.5 L643.0 787.6 L654.7 788.9 L673.8 790.3 L679.6 788.5 L685.9 789.3 L697.9 789.8 L703.7 790.6 L719.5 792.6 L728.3 791.9 L738.3 793.4 L747.9 794.4 L754.1 793.6 L759.9 790.6 L766.1 788.9 L776.6 787.8 L784.9 787.8 L790.7 786.0 L796.5 787.0 L803.2 786.0 L815.6 786.0 L828.1 787.6 L833.9 788.5 L840.6 786.8 L846.7 783.6 L853.1 783.5 L858.9 784.3 L865.5 783.6 L871.9 783.6 L878.0 781.5 L883.8 784.5 L889.7 783.1 L902.1 781.5 L908.8 781.5 L915.4 778.1 L921.3 776.5 L927.9 776.5 L933.4 775.6 L939.6 774.0 L945.4 767.8 L951.7 765.3 L957.9 766.0 L963.7 765.7 L970.8 766.5 L977.1 765.7 L983.3 762.8 L989.1 762.8 L994.9 764.5 L1001.6 764.8 L1014.1 767.3 L1020.2 766.2 L1026.5 765.3 L1038.5 764.8 L1044.8 764.8 L1057.3 769.0 L1069.8 768.7 L1075.9 769.3 L1082.3 770.3 L1088.1 770.3 L1094.4 771.2 L1100.2 770.2 L1106.9 769.5 L1113.0 770.3 L1118.8 769.0 L1125.2 766.8 L1131.3 768.5 L1143.8 771.0 L1156.3 772.3 L1167.9 771.5 L1174.9 771.2 L1181.2 771.5 L1187.0 772.6 L1192.9 766.2 L1199.2 767.3 L1208.3 769.3 L1217.5 770.3 L1224.1 770.3 L1236.6 772.6 L1242.9 774.5 L1249.1 774.3 L1254.9 772.3 L1260.7 773.6 L1267.0 775.1 L1274.0 775.3 L1279.8 775.3 L1286.2 776.8 L1292.0 777.8 L1298.1 779.0 L1304.5 778.1 L1310.6 779.8 L1316.9 778.5 L1323.1 777.3 L1329.2 778.1 L1335.9 779.0 L1341.9 776.5 L1348.0 777.0 L1353.9 776.1 L1360.2 774.5 L1373.0 774.5 L1378.8 772.3 L1385.1 773.1 L1391.3 774.3 L1397.1 774.0 L1403.8 772.3 L1409.6 773.6" stroke="#b71c1c" stroke-width="1.1" fill="none" stroke-linejoin="round" />
</g>
<path d="M1434.5 2V803M4 803.5H1500M1434.5 803V831" stroke="#4a4a4f" stroke-width="1" shape-rendering="crispEdges"/>
<text x="1443.2" y="662.2" font-size="12.5" fill="#4a4a4f" font-weight="normal" text-anchor="start" textLength="46.4" lengthAdjust="spacingAndGlyphs" >1,800.00</text>
<text x="1443.2" y="625.8" font-size="12.5" fill="#4a4a4f" font-weight="normal" text-anchor="start" textLength="46.4" lengthAdjust="spacingAndGlyphs" >1,840.00</text>
<text x="1443.2" y="589.4" font-size="12.5" fill="#4a4a4f" font-weight="normal" text-anchor="start" textLength="46.4" lengthAdjust="spacingAndGlyphs" >1,880.00</text>
<text x="1443.2" y="553.0" font-size="12.5" fill="#4a4a4f" font-weight="normal" text-anchor="start" textLength="46.4" lengthAdjust="spacingAndGlyphs" >1,920.00</text>
<text x="1443.2" y="516.6" font-size="12.5" fill="#4a4a4f" font-weight="normal" text-anchor="start" textLength="46.4" lengthAdjust="spacingAndGlyphs" >1,960.00</text>
<text x="1443.2" y="480.2" font-size="12.5" fill="#4a4a4f" font-weight="normal" text-anchor="start" textLength="46.4" lengthAdjust="spacingAndGlyphs" >2,000.00</text>
<text x="1443.2" y="443.8" font-size="12.5" fill="#4a4a4f" font-weight="normal" text-anchor="start" textLength="46.4" lengthAdjust="spacingAndGlyphs" >2,040.00</text>
<text x="1443.2" y="407.4" font-size="12.5" fill="#4a4a4f" font-weight="normal" text-anchor="start" textLength="46.4" lengthAdjust="spacingAndGlyphs" >2,080.00</text>
<text x="1443.2" y="371.0" font-size="12.5" fill="#4a4a4f" font-weight="normal" text-anchor="start" textLength="46.4" lengthAdjust="spacingAndGlyphs" >2,120.00</text>
<text x="1443.2" y="334.6" font-size="12.5" fill="#4a4a4f" font-weight="normal" text-anchor="start" textLength="46.4" lengthAdjust="spacingAndGlyphs" >2,160.00</text>
<text x="1443.2" y="298.2" font-size="12.5" fill="#4a4a4f" font-weight="normal" text-anchor="start" textLength="46.4" lengthAdjust="spacingAndGlyphs" >2,200.00</text>
<text x="1443.2" y="261.8" font-size="12.5" fill="#4a4a4f" font-weight="normal" text-anchor="start" textLength="46.4" lengthAdjust="spacingAndGlyphs" >2,240.00</text>
<text x="1443.2" y="225.4" font-size="12.5" fill="#4a4a4f" font-weight="normal" text-anchor="start" textLength="46.4" lengthAdjust="spacingAndGlyphs" >2,280.00</text>
<text x="1443.2" y="189.0" font-size="12.5" fill="#4a4a4f" font-weight="normal" text-anchor="start" textLength="46.4" lengthAdjust="spacingAndGlyphs" >2,320.00</text>
<text x="1443.2" y="152.6" font-size="12.5" fill="#4a4a4f" font-weight="normal" text-anchor="start" textLength="46.4" lengthAdjust="spacingAndGlyphs" >2,360.00</text>
<text x="1443.2" y="116.2" font-size="12.5" fill="#4a4a4f" font-weight="normal" text-anchor="start" textLength="46.4" lengthAdjust="spacingAndGlyphs" >2,400.00</text>
<text x="1443.2" y="79.8" font-size="12.5" fill="#4a4a4f" font-weight="normal" text-anchor="start" textLength="46.4" lengthAdjust="spacingAndGlyphs" >2,440.00</text>
<text x="1443.2" y="43.4" font-size="12.5" fill="#4a4a4f" font-weight="normal" text-anchor="start" textLength="46.4" lengthAdjust="spacingAndGlyphs" >2,480.00</text>
<rect x="1436" y="3" width="63" height="33" fill="#fff"/>
<rect x="1438.5" y="6.5" width="57" height="25" rx="4" fill="#fff" stroke="#e0e3eb"/>
<text x="1442.3" y="23" font-size="12" fill="#131722" font-weight="normal" text-anchor="start" textLength="21.5" lengthAdjust="spacingAndGlyphs" >USD</text>
<path d="M1485.7 18.1l2.8 2.8l2.8 -2.8" stroke="#131722" stroke-width="1.25" fill="none"/>
<path d="M1434 58H1493a2 2 0 0 1 2 2V73a2 2 0 0 1 -2 2H1434Z" fill="#000"/>
<text x="1443" y="70.3" font-size="12.3" fill="#fff" font-weight="bold" text-anchor="start" textLength="46" lengthAdjust="spacingAndGlyphs" >2,450.56</text>
<path d="M1434 215H1493a2 2 0 0 1 2 2V230a2 2 0 0 1 -2 2H1434Z" fill="#000"/>
<text x="1443" y="227.3" font-size="12.3" fill="#fff" font-weight="bold" text-anchor="start" textLength="46" lengthAdjust="spacingAndGlyphs" >2,277.73</text>
<path d="M1434 292H1493a2 2 0 0 1 2 2V307a2 2 0 0 1 -2 2H1434Z" fill="#000"/>
<text x="1443" y="304.3" font-size="12.3" fill="#fff" font-weight="bold" text-anchor="start" textLength="46" lengthAdjust="spacingAndGlyphs" >2,193.44</text>
<path d="M1434 334H1493a2 2 0 0 1 2 2V349a2 2 0 0 1 -2 2H1434Z" fill="#000"/>
<text x="1443" y="346.3" font-size="12.3" fill="#fff" font-weight="bold" text-anchor="start" textLength="46" lengthAdjust="spacingAndGlyphs" >2,147.28</text>
<path d="M1434 479H1493a2 2 0 0 1 2 2V494a2 2 0 0 1 -2 2H1434Z" fill="#000"/>
<text x="1443" y="491.3" font-size="12.3" fill="#fff" font-weight="bold" text-anchor="start" textLength="46" lengthAdjust="spacingAndGlyphs" >1,987.90</text>
<path d="M1434 496H1493a2 2 0 0 1 2 2V511a2 2 0 0 1 -2 2H1434Z" fill="#000"/>
<text x="1443" y="508.3" font-size="12.3" fill="#fff" font-weight="bold" text-anchor="start" textLength="46" lengthAdjust="spacingAndGlyphs" >1,972.75</text>
<path d="M1434 533H1493a2 2 0 0 1 2 2V548a2 2 0 0 1 -2 2H1434Z" fill="#000"/>
<text x="1443" y="545.3" font-size="12.3" fill="#fff" font-weight="bold" text-anchor="start" textLength="46" lengthAdjust="spacingAndGlyphs" >1,928.04</text>
<path d="M1434 640H1493a2 2 0 0 1 2 2V655a2 2 0 0 1 -2 2H1434Z" fill="#000"/>
<text x="1443" y="652.3" font-size="12.3" fill="#fff" font-weight="bold" text-anchor="start" textLength="46" lengthAdjust="spacingAndGlyphs" >1,810.48</text>
<path d="M1434 125H1493a2 2 0 0 1 2 2V140a2 2 0 0 1 -2 2H1434Z" fill="#69a683"/>
<text x="1442.8" y="137.9" font-size="12.3" fill="#e3f0e9" font-weight="bold" text-anchor="start" textLength="46.4" lengthAdjust="spacingAndGlyphs" >08:56:53</text>
<text x="1443.2" y="729" font-size="12.5" fill="#4a4a4f" font-weight="normal" text-anchor="start" textLength="23" lengthAdjust="spacingAndGlyphs" >0.00</text>
<text x="1443.2" y="790" font-size="12.5" fill="#4a4a4f" font-weight="normal" text-anchor="start" textLength="29" lengthAdjust="spacingAndGlyphs" >25.00</text>
<text x="76.5" y="820.9" font-size="12.3" fill="#4a4a4f" font-weight="normal" text-anchor="start" textLength="19" lengthAdjust="spacingAndGlyphs" >Oct</text>
<text x="211.9" y="820.9" font-size="12.3" fill="#4a4a4f" font-weight="normal" text-anchor="start" textLength="20.2" lengthAdjust="spacingAndGlyphs" >Nov</text>
<text x="348.4" y="820.9" font-size="12.3" fill="#4a4a4f" font-weight="normal" text-anchor="start" textLength="19.3" lengthAdjust="spacingAndGlyphs" >Dec</text>
<text x="474.6" y="820.9" font-size="12.3" fill="#2a2a2e" font-weight="bold" text-anchor="start" textLength="26.9" lengthAdjust="spacingAndGlyphs" >2024</text>
<text x="620.2" y="820.9" font-size="12.3" fill="#4a4a4f" font-weight="normal" text-anchor="start" textLength="19.6" lengthAdjust="spacingAndGlyphs" >Feb</text>
<text x="750.0" y="820.9" font-size="12.3" fill="#4a4a4f" font-weight="normal" text-anchor="start" textLength="19.9" lengthAdjust="spacingAndGlyphs" >Mar</text>
<text x="880.5" y="820.9" font-size="12.3" fill="#4a4a4f" font-weight="normal" text-anchor="start" textLength="19" lengthAdjust="spacingAndGlyphs" >Apr</text>
<text x="1015.1" y="820.9" font-size="12.3" fill="#4a4a4f" font-weight="normal" text-anchor="start" textLength="21.7" lengthAdjust="spacingAndGlyphs" >May</text>
<text x="1158.5" y="820.9" font-size="12.3" fill="#4a4a4f" font-weight="normal" text-anchor="start" textLength="19" lengthAdjust="spacingAndGlyphs" >Jun</text>
<text x="1284.3" y="820.9" font-size="12.3" fill="#4a4a4f" font-weight="normal" text-anchor="start" textLength="15.3" lengthAdjust="spacingAndGlyphs" >Jul</text>
<text x="1423.5" y="820.9" font-size="12.3" fill="#4a4a4f" font-weight="normal" text-anchor="start" textLength="21" lengthAdjust="spacingAndGlyphs" >Aug</text>
<rect x="1435" y="804" width="65" height="27" fill="#fff"/>
<path d="M1434.5 803V831" stroke="#4a4a4f" stroke-width="1" shape-rendering="crispEdges"/>
<g transform="translate(1467.5 817.4)" fill="none" stroke="#1c1c1f" stroke-width="1.2" stroke-linejoin="round"><path d="M-7.3 0L-4.1 -6.1H4.1L7.3 0L4.1 6.1H-4.1Z"/><circle r="2"/></g>
<g transform="translate(1410.5 670.5)" fill="none"><circle r="9.8" stroke="#9c27b0" stroke-width="1.5"/><circle cx="6.9" cy="-7" r="4.3" fill="#fff"/><path d="M2.2 -4.9L-3.8 -0.3L3.4 0L-3.1 4.9" stroke="#9c27b0" stroke-width="1.4" stroke-linejoin="miter"/><circle cx="6.9" cy="-7" r="2.7" fill="#f23645"/></g>
<rect x="8" y="7" width="678" height="23" fill="#fff" fill-opacity="0.55"/>
<circle cx="22" cy="18" r="9" fill="#d69b00"/>
<path d="M20.3 13.9h3.5l1.5 3h-6.4zM17 18.1h3.1l1.3 2.7h-6.3zM23.9 18.1h3.1l2 2.7h-6.2z" fill="#fff"/>
<text x="35.6" y="23.7" font-size="16" fill="#45464c" font-weight="normal" text-anchor="start" textLength="244" lengthAdjust="spacingAndGlyphs" >CFDs on Gold (US$ / OZ) · 1D · TVC</text>
<circle cx="304" cy="18" r="9" fill="#089981" fill-opacity="0.15"/><circle cx="304" cy="18" r="4" fill="#089981"/>
<text x="329.4" y="22.8" font-size="12.5" fill="#5a5a5a" font-weight="normal" text-anchor="start" textLength="9.0" lengthAdjust="spacingAndGlyphs" >O</text>
<text x="339.9" y="22.8" font-size="12.5" fill="#265c40" font-weight="normal" text-anchor="start" textLength="49.3" lengthAdjust="spacingAndGlyphs" >2,363.65</text>
<text x="396.2" y="22.8" font-size="12.5" fill="#5a5a5a" font-weight="normal" text-anchor="start" textLength="8.8" lengthAdjust="spacingAndGlyphs" >H</text>
<text x="406.2" y="22.8" font-size="12.5" fill="#265c40" font-weight="normal" text-anchor="start" textLength="48.5" lengthAdjust="spacingAndGlyphs" >2,379.62</text>
<text x="462.1" y="22.8" font-size="12.5" fill="#5a5a5a" font-weight="normal" text-anchor="start" textLength="6.4" lengthAdjust="spacingAndGlyphs" >L</text>
<text x="469.8" y="22.8" font-size="12.5" fill="#265c40" font-weight="normal" text-anchor="start" textLength="48.4" lengthAdjust="spacingAndGlyphs" >2,356.01</text>
<text x="526" y="22.8" font-size="12.5" fill="#5a5a5a" font-weight="normal" text-anchor="start" textLength="7.5" lengthAdjust="spacingAndGlyphs" >C</text>
<text x="534.3" y="22.8" font-size="12.5" fill="#265c40" font-weight="normal" text-anchor="start" textLength="49.3" lengthAdjust="spacingAndGlyphs" >2,377.26</text>
<text x="591.9" y="22.8" font-size="12.5" fill="#265c40" font-weight="normal" text-anchor="start" textLength="37.0" lengthAdjust="spacingAndGlyphs" >+11.96</text>
<text x="635.2" y="22.8" font-size="12.5" fill="#265c40" font-weight="normal" text-anchor="start" textLength="47.0" lengthAdjust="spacingAndGlyphs" >(+0.51%)</text>
<rect x="12.5" y="34.5" width="65" height="23" rx="4" fill="#fff" stroke="#f23645"/>
<text x="20" y="50.6" font-size="12.5" fill="#f23645" font-weight="normal" text-anchor="start" textLength="49.9" lengthAdjust="spacingAndGlyphs" >2,377.29</text>
<text x="87" y="50" font-size="11" fill="#131722" font-weight="normal" text-anchor="start" textLength="10.6" lengthAdjust="spacingAndGlyphs" >15</text>
<rect x="106.5" y="34.5" width="65" height="23" rx="4" fill="#fff" stroke="#2962ff"/>
<text x="114" y="50.6" font-size="12.5" fill="#2962ff" font-weight="normal" text-anchor="start" textLength="49.9" lengthAdjust="spacingAndGlyphs" >2,377.44</text>
<rect x="8" y="64.0" width="139.9" height="22" fill="#fff" fill-opacity="0.55"/>
<text x="12.8" y="79.2" font-size="12.5" fill="#4a4a4f" font-weight="normal" text-anchor="start" textLength="73.8" lengthAdjust="spacingAndGlyphs" >SMA 20 close</text>
<text x="95.5" y="79.2" font-size="12.5" fill="#f23645" font-weight="normal" text-anchor="start" textLength="49.4" lengthAdjust="spacingAndGlyphs" >2,390.91</text>
<rect x="8" y="88.0" width="139.9" height="22" fill="#fff" fill-opacity="0.55"/>
<text x="12.8" y="103.2" font-size="12.5" fill="#4a4a4f" font-weight="normal" text-anchor="start" textLength="73.8" lengthAdjust="spacingAndGlyphs" >SMA 50 close</text>
<text x="95.5" y="103.2" font-size="12.5" fill="#3a3af0" font-weight="normal" text-anchor="start" textLength="49.4" lengthAdjust="spacingAndGlyphs" >2,359.38</text>
<rect x="8" y="112.0" width="147.5" height="22" fill="#fff" fill-opacity="0.55"/>
<text x="12.8" y="127.2" font-size="12.5" fill="#4a4a4f" font-weight="normal" text-anchor="start" textLength="80.4" lengthAdjust="spacingAndGlyphs" >SMA 200 close</text>
<text x="102.5" y="127.2" font-size="12.5" fill="#131722" font-weight="normal" text-anchor="start" textLength="50.0" lengthAdjust="spacingAndGlyphs" >2,174.34</text>
<rect x="13.5" y="137.5" width="28" height="19" rx="3" fill="#fff" stroke="#d1d4dc"/>
<path d="M24 148.5l3.5 -3.5l3.5 3.5" stroke="#131722" stroke-width="1.3" fill="none"/>
<rect x="8" y="693" width="156" height="17" fill="#fff" fill-opacity="0.55"/>
<text x="13" y="705" font-size="12.5" fill="#4a4a4f" font-weight="normal" text-anchor="start" textLength="101.8" lengthAdjust="spacingAndGlyphs" >CCI 20 hlc3 SMA 5</text>
<text x="123.9" y="705" font-size="12.5" fill="#2962ff" font-weight="normal" text-anchor="start" textLength="37.1" lengthAdjust="spacingAndGlyphs" >−41.02</text>
<g fill="#878a93" transform="translate(17 771.1) scale(0.794)"><path d="M14 22H7V11H0V4h14v18z"/><circle cx="20" cy="8" r="4"/><path d="M28 22h-8l7.5-18h8L28 22z"/></g>
<rect x="84" y="770" width="40" height="16" fill="#fff" fill-opacity="0.55"/>
<text x="13" y="781.9" font-size="12.5" fill="#4a4a4f" font-weight="normal" text-anchor="start" textLength="67.5" lengthAdjust="spacingAndGlyphs" >ATR 14 RMA</text>
<text x="88.8" y="781.9" font-size="12.5" fill="#b22833" font-weight="normal" text-anchor="start" textLength="31.3" lengthAdjust="spacingAndGlyphs" >33.66</text>
</svg></body></html>
